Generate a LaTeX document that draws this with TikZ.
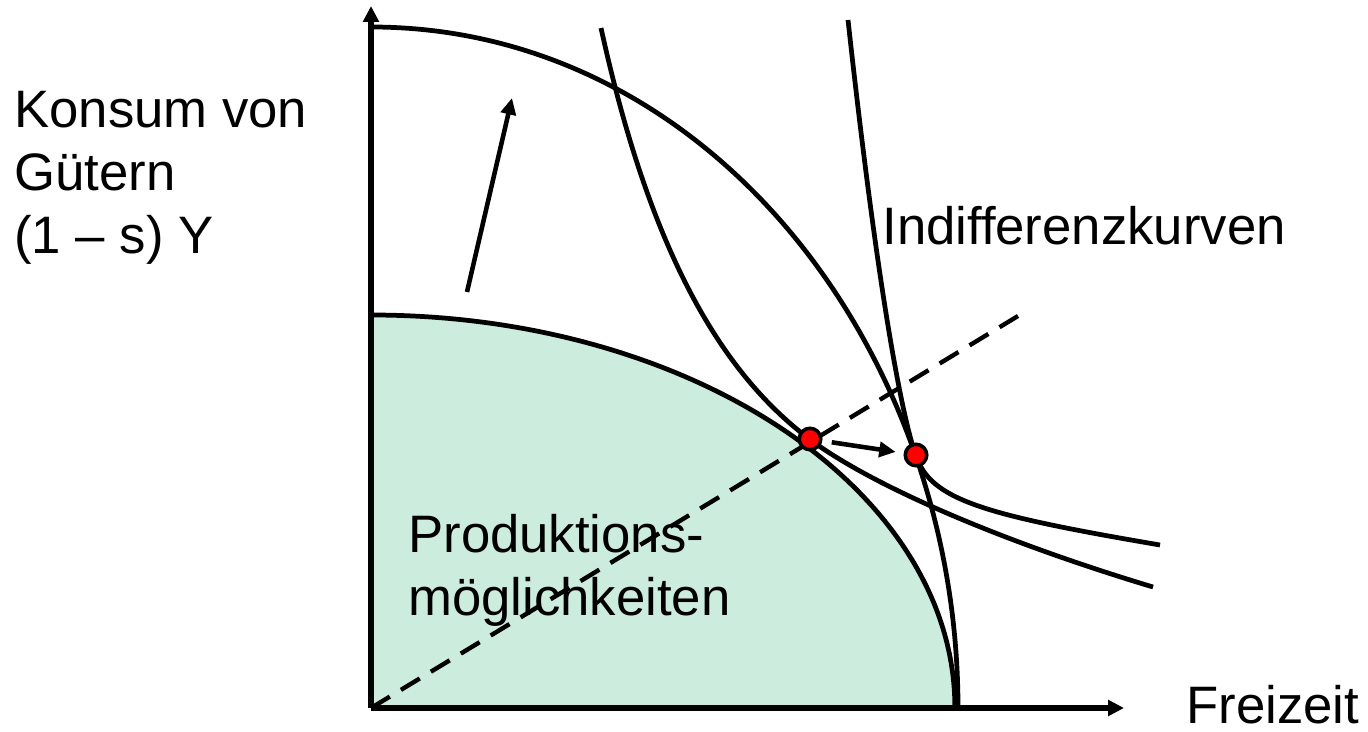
\documentclass[tikz,border=0pt]{standalone}
\usepackage{fontspec}
\setmainfont{Liberation Sans}
\usetikzlibrary{arrows.meta,positioning,calc}
\definecolor{ppfgreen}{RGB}{204,236,222}
\tikzset{
  axis/.style={-{Triangle[length=3.2mm,width=3.1mm]}, line width=2.9pt},
  curve/.style={line width=2.7pt},
  arrow/.style={-{Triangle[length=3.3mm,width=3.0mm]}, line width=2.6pt},
  dashline/.style={line width=2.5pt, dash pattern=on 4.4mm off 2.6mm},
  eqdot/.style={circle, fill=red, draw=black, line width=2pt, minimum size=4.3mm, inner sep=0pt},
  lbl/.style={font=\fontsize{30}{35.8}\selectfont, inner sep=0pt, align=left}
}

\begin{document}
\begin{tikzpicture}[x=0.02cm, y=0.02cm]
\useasboundingbox (0,0) rectangle (1368,731);
% ---- points ----
\coordinate (O) at (371,23);
\coordinate (ytop) at (371,725);
\coordinate (xend) at (1124,23);
\coordinate (rayend) at (1018,415);
\coordinate (shiftfrom) at (467,439);
\coordinate (shiftto) at (512,633);
% ---- production possibilities ----
\fill[ppfgreen] (O) -- (371,416) arc[start angle=90, end angle=0, x radius=11.68cm, y radius=7.86cm] -- cycle;
\node[lbl, anchor=base west] (ppflab) at (408,116) {Produktions-\\möglichkeiten};
\draw[dashline] (O) -- (rayend);
\draw[curve] (371,416) arc[start angle=90, end angle=0, x radius=11.68cm, y radius=7.86cm];
\draw[curve] (371,704) .. controls (710,704) and (958,380) .. (958,23);
% ---- indifference curves ----
\draw[curve] (601,703) .. controls (650,480) and (720,360) .. (808,293) .. controls (870,246) and (1000,190) .. (1153,144);
\draw[curve] (848,711) .. controls (880,420) and (905,300) .. (918,270) .. controls (935,230) and (990,215) .. (1160,186);
% ---- axes ----
\draw[axis] (O) -- (ytop);
\draw[axis] (O) -- (xend);
% ---- equilibria ----
\node[eqdot] (eqA) at (810,292) {};
\node[eqdot] (eqB) at (916,276) {};
\draw[arrow, shorten <=0.19cm, shorten >=0.16cm] (eqA) -- (eqB);
\draw[arrow] (shiftfrom) -- (shiftto);
% ---- labels ----
\node[lbl, anchor=base west] (ylab) at (14,478) {Konsum von\\Gütern\\(1 – s) Y};
\node[lbl, anchor=base west] (iclab) at (882,486) {Indifferenzkurven};
\node[lbl, anchor=base west] (xlab) at (1186,8) {Freizeit};
\end{tikzpicture}
\end{document}
